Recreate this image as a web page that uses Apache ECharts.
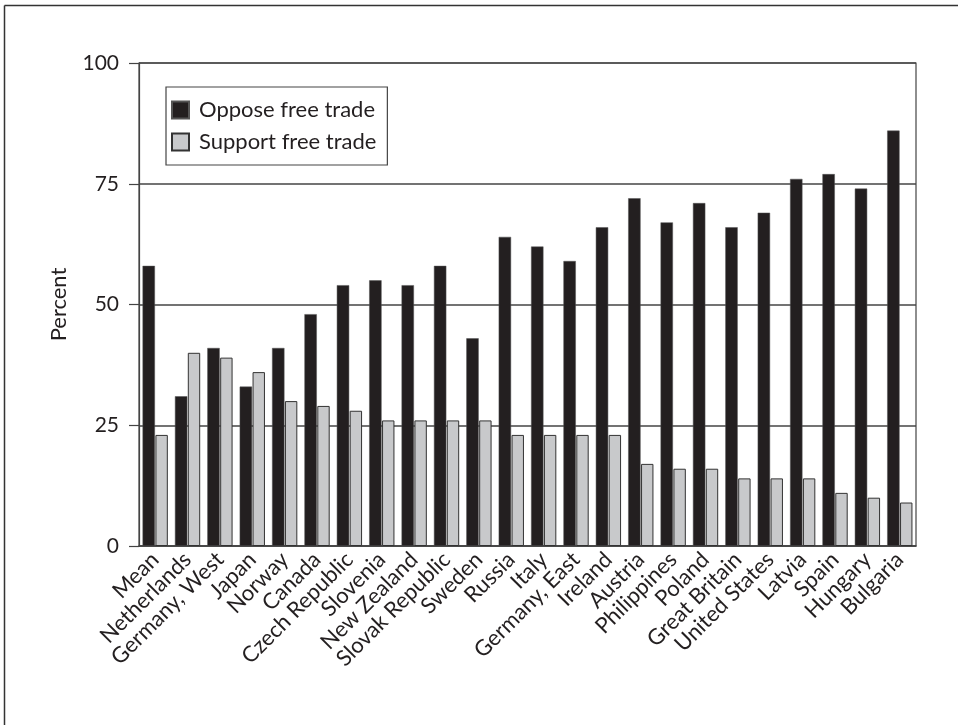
<!DOCTYPE html>
<html>
<head>
<meta charset="utf-8">
<script src="https://cdn.jsdelivr.net/npm/echarts@6/dist/echarts.min.js"></script>
<style>
html,body{margin:0;padding:0;background:#fff;}
#chart{width:958px;height:725px;}
</style>
</head>
<body>
<div id="chart"></div>
<script>
const categories = ["Mean","Netherlands","Germany, West","Japan","Norway","Canada","Czech Republic","Slovenia","New Zealand","Slovak Republic","Sweden","Russia","Italy","Germany, East","Ireland","Austria","Philippines","Poland","Great Britain","United States","Latvia","Spain","Hungary","Bulgaria"];
const opposeFreeTrade = [58,31,41,33,41,48,54,55,54,58,43,64,62,59,66,72,67,71,66,69,76,77,74,86];
const supportFreeTrade = [23,40,39,36,30,29,28,26,26,26,26,23,23,23,23,17,16,16,14,14,14,11,10,9];
const yTicks = [0,25,50,75,100];

const FONT = 'Lato';
const chart = echarts.init(document.getElementById('chart'));
chart.setOption({
  animation: false,
  textStyle: {fontFamily: FONT},
  graphic: [
    {type:'line', shape:{x1:4.5,y1:5.5,x2:958,y2:5.5}, style:{stroke:'#333',lineWidth:1.5}},
    {type:'line', shape:{x1:4.5,y1:5.5,x2:4.5,y2:725}, style:{stroke:'#333',lineWidth:1.5}}
  ],
  grid: {left:139, right:42, top:63, bottom:179, show:true, borderColor:'#444', borderWidth:1.2, backgroundColor:'transparent'},
  legend: {
    orient:'vertical', left:166, top:87,
    padding:[12,11,12,5],
    icon:'rect',
    itemWidth:17, itemHeight:17, itemGap:10,
    borderColor:'#444', borderWidth:1.2,
    textStyle:{fontFamily:FONT, fontSize:22, lineHeight:18, color:'#231f20', padding:[0,0,0,5]},
    data:['Oppose free trade','Support free trade']
  },
  xAxis: {
    type:'category', data:categories,
    axisLine:{show:true, lineStyle:{color:'#444', width:1.5}},
    axisTick:{show:false},
    axisLabel:{interval:0, rotate:45, margin:10, fontSize:22, color:'#231f20', fontFamily:FONT}
  },
  yAxis: {
    type:'value', min:0, max:100, interval:25,
    name:'Percent', nameLocation:'middle', nameGap:69,
    nameTextStyle:{fontSize:22, color:'#231f20', fontFamily:FONT},
    axisLine:{show:true, lineStyle:{color:'#444', width:1.2}},
    axisTick:{show:true, length:10, lineStyle:{color:'#444', width:1.2}},
    axisLabel:{margin:20, fontSize:21, color:'#231f20', fontFamily:FONT,
      formatter: v => yTicks.indexOf(v) >= 0 ? String(v) : ''},
    splitLine:{show:true, lineStyle:{color:'#444', width:1.5}}
  },
  series: [
    {name:'Oppose free trade', type:'bar', data:opposeFreeTrade, barGap:'4%', barCategoryGap:'22%',
     itemStyle:{color:'#231f20', borderColor:'#555', borderWidth:0.5}},
    {name:'Support free trade', type:'bar', data:supportFreeTrade,
     itemStyle:{color:'#c8c9cb', borderColor:'#333', borderWidth:1}}
  ]
});
</script>
</body>
</html>
